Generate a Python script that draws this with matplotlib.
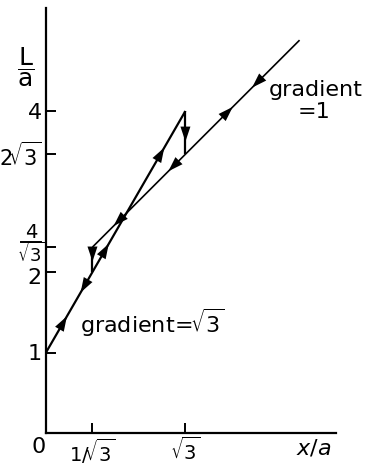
import matplotlib.pyplot as plt
import numpy as np
from matplotlib.transforms import ScaledTranslation

plt.rcParams["font.family"] = ["DejaVu Sans"]
plt.rcParams["mathtext.fontset"] = "dejavusans"

R3 = np.sqrt(3)

# hysteresis branches of L/a against x/a
steep_x = [0.0, R3]
steep_L = [1.0, 4.0]
shallow_x = [1 / R3, 3.15]
shallow_L = [4 / R3, 4.88]

# vertical jumps between the two branches
jump_x = [1 / R3, R3]
jump_top = [4 / R3, 4.0]
jump_bottom = [2.0, 2 * R3]

# arrows: (branch, x position, +1 = increasing x, -1 = decreasing x)
arrows = [
    ("steep", 0.26, 1),
    ("steep", 0.43, -1),
    ("steep", 0.78, 1),
    ("steep", 1.47, 1),
    ("shallow", 0.84, -1),
    ("shallow", 1.52, -1),
    ("shallow", 2.32, 1),
    ("shallow", 2.56, -1),
]
jump_arrows = [(1 / R3, 2.13), (R3, 3.62)]

yticks = [1, 2, 4 / R3, 2 * R3, 4]
ytick_labels = ["1", "2", "", r"$2\!\sqrt{3}$", "4"]
xticks = [1 / R3, R3]
xtick_labels = [r"$1/\!\sqrt{3}$", r"$\sqrt{3}$"]

FS = 16

fig = plt.figure(figsize=(3.76, 4.66), dpi=100)
ax = fig.add_axes([46 / 376, 33 / 466, 290 / 376, 425 / 466])
ax.set_xlim(0, 290 / 80.5)
ax.set_ylim(0, 425 / 80.5)

for side in ("top", "right"):
    ax.spines[side].set_visible(False)
for side in ("left", "bottom"):
    ax.spines[side].set_linewidth(1.6)

ax.set_yticks(yticks, ytick_labels, fontsize=FS)
ax.set_xticks(xticks, xtick_labels, fontsize=14)
ax.tick_params(direction="in", length=7, width=1.4, pad=3)

ylabels = ax.get_yticklabels()
ylabels[1].set_transform(ylabels[1].get_transform()
                         + ScaledTranslation(0, -3 / 72, fig.dpi_scale_trans))
ylabels[3].set_fontsize(15)

# 4/sqrt(3) written as a stacked fraction beside its tick
ytrans = ax.get_yaxis_transform() + ScaledTranslation(0, 4 / 72, fig.dpi_scale_trans)
fx = -0.052
ax.text(fx, 4 / R3, "4", fontsize=14, ha="center", va="bottom",
        transform=ytrans)
ax.text(fx, 4 / R3, r"$\sqrt{3}$", fontsize=13, ha="center", va="top",
        transform=ytrans)
ax.plot([fx - 0.035, fx + 0.035], [4 / R3, 4 / R3], color="black", lw=1.4,
        transform=ytrans, clip_on=False)

ax.plot(steep_x, steep_L, color="black", lw=1.6, solid_capstyle="butt")
ax.plot(shallow_x, shallow_L, color="black", lw=1.2, solid_capstyle="butt")
ax.vlines(jump_x, jump_bottom, jump_top, color="black", lw=1.6)

branches = {"steep": (steep_x, steep_L), "shallow": (shallow_x, shallow_L)}
head = "-|>,head_length=0.9,head_width=0.3"
for name, x, sgn in arrows:
    bx, by = branches[name]
    tip = (x, np.interp(x, bx, by))
    back = x - sgn * 0.05
    tail = (back, np.interp(back, bx, by))
    ax.annotate("", xy=tip, xytext=tail,
                arrowprops=dict(arrowstyle=head, color="black", lw=0,
                                mutation_scale=12, shrinkA=0, shrinkB=0))
for x, y in jump_arrows:
    ax.annotate("", xy=(x, y), xytext=(x, y + 0.05),
                arrowprops=dict(arrowstyle=head, color="black", lw=0,
                                mutation_scale=12, shrinkA=0, shrinkB=0))

ax.text(2.77, 4.19, "gradient", fontsize=FS, ha="left", va="baseline")
ax.text(3.12, 3.91, "=1", fontsize=FS, ha="left", va="baseline")
ax.text(0.42, 1.24, r"gradient$\!=\!\!\sqrt{3}$", fontsize=FS,
        ha="left", va="baseline")

ax.text(-0.09, -0.05, "0", fontsize=FS, ha="center", va="top")
ax.text(3.33, -0.05, r"$x/a$", fontsize=FS, ha="center", va="top")
ax.text(-0.25, 4.55, r"$\dfrac{\mathrm{L}}{\mathrm{a}}$", fontsize=18,
        ha="center", va="center")

fig.savefig("out.png", dpi=100)
